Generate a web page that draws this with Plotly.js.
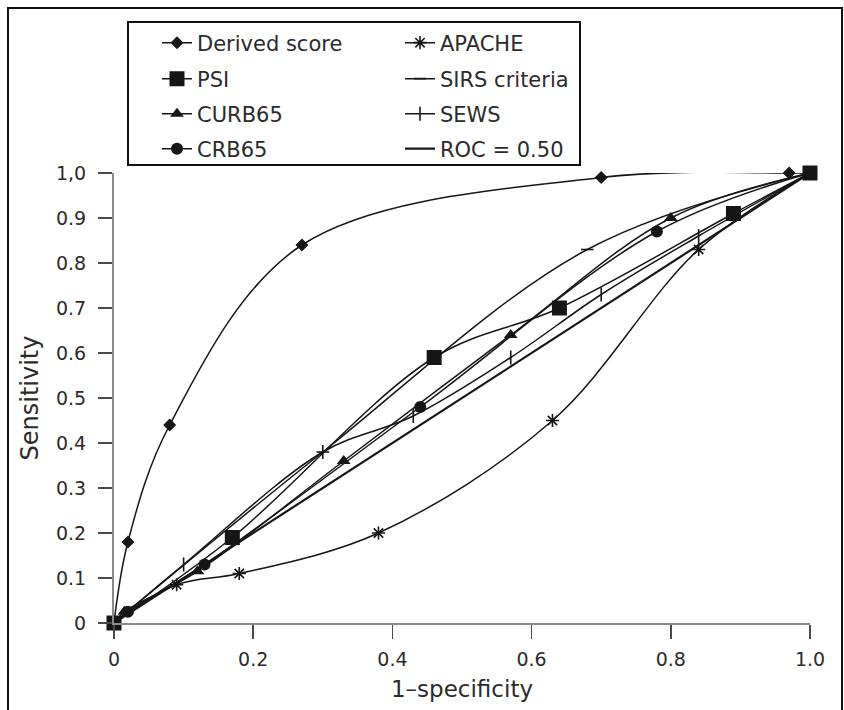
<!DOCTYPE html>
<html>
<head>
<meta charset="utf-8">
<script src="https://cdn.plot.ly/plotly-3.0.1.min.js"></script>
<style>
  html, body { margin: 0; padding: 0; background: #fff; }
  #chart { width: 844px; height: 710px; }
</style>
</head>
<body>
<div id="chart"></div>
<script>
// ROC curves of the prognostic scores: 1-specificity (x) vs sensitivity (y)
const derivedX = [0, 0.02, 0.08, 0.27, 0.70, 0.97, 1.0];
const derivedY = [0, 0.18, 0.44, 0.84, 0.99, 1.0, 1.0];

const psiX = [0, 0.17, 0.46, 0.64, 0.89, 1.0];
const psiY = [0, 0.19, 0.59, 0.70, 0.91, 1.0];

const curb65X = [0, 0.015, 0.12, 0.33, 0.57, 0.80, 1.0];
const curb65Y = [0, 0.025, 0.115, 0.36, 0.64, 0.90, 1.0];

const crb65X = [0, 0.02, 0.13, 0.44, 0.78, 1.0];
const crb65Y = [0, 0.025, 0.13, 0.48, 0.87, 1.0];

const apacheX = [0, 0.09, 0.18, 0.38, 0.63, 0.84, 1.0];
const apacheY = [0, 0.085, 0.11, 0.20, 0.45, 0.83, 1.0];

const sirsX = [0, 0.30, 0.68, 1.0];
const sirsY = [0, 0.38, 0.83, 1.0];

const sewsX = [0, 0.10, 0.30, 0.43, 0.57, 0.70, 0.84, 1.0];
const sewsY = [0, 0.13, 0.38, 0.46, 0.59, 0.73, 0.86, 1.0];

const chanceX = [0, 1];
const chanceY = [0, 1];

const xTickVals = [0, 0.2, 0.4, 0.6, 0.8, 1.0];
const xTickText = ['0', '0.2', '0.4', '0.6', '0.8', '1.0'];
const yTickVals = [0, 0.1, 0.2, 0.3, 0.4, 0.5, 0.6, 0.7, 0.8, 0.9, 1.0];
const yTickText = ['0', '0.1', '0.2', '0.3', '0.4', '0.5', '0.6', '0.7', '0.8', '0.9', '1,0'];

const INK = '#161616';
const TEXT = '#2b2b2b';
const FONT = 'DejaVu Sans, Verdana, sans-serif';

// plot area in pixels: x 114..810, y 173..623
const PX = { l: 114, r: 810, t: 173, b: 623 };
const toPaperX = px => (px - PX.l) / (PX.r - PX.l);
const toPaperY = py => (PX.b - py) / (PX.b - PX.t);

function curve(name, xs, ys, symbol, size, legendId, extra) {
  const open = symbol === 'asterisk' || symbol === 'line-ns' || symbol === 'line-ew';
  return Object.assign({
    type: 'scatter',
    mode: 'lines+markers',
    name: name,
    x: xs,
    y: ys,
    legend: legendId,
    cliponaxis: false,
    line: { color: INK, width: 1.5, shape: 'spline', smoothing: 1 },
    marker: {
      symbol: symbol,
      size: size,
      color: INK,
      line: { color: INK, width: open ? 1.6 : 0 }
    }
  }, extra || {});
}

const traces = [
  curve('Derived score', derivedX, derivedY, 'diamond', 10, 'legend'),
  curve('PSI', psiX, psiY, 'square', 15, 'legend2'),
  curve('CURB65', curb65X, curb65Y, 'triangle-up', 12, 'legend3'),
  curve('CRB65', crb65X, crb65Y, 'circle', 12, 'legend4'),
  curve('APACHE', apacheX, apacheY, 'asterisk', 11, 'legend5'),
  curve('SIRS criteria', sirsX, sirsY, 'line-ew', 9, 'legend6'),
  curve('SEWS', sewsX, sewsY, 'line-ns', 10, 'legend7'),
  {
    type: 'scatter', mode: 'lines', name: 'ROC = 0.50',
    x: chanceX, y: chanceY, legend: 'legend8', cliponaxis: false,
    line: { color: INK, width: 2.2 }
  }
];

// one legend per entry so the two columns and four rows sit on a fixed grid
const legendCols = [157, 400];
const legendRows = [43, 79, 114, 149];
function legendAt(col, row) {
  return {
    x: toPaperX(legendCols[col]), y: toPaperY(legendRows[row]),
    xanchor: 'left', yanchor: 'middle',
    bgcolor: 'rgba(0,0,0,0)', borderwidth: 0,
    font: { family: FONT, size: 21, color: TEXT }
  };
}

const layout = {
  width: 844,
  height: 710,
  margin: { l: 114, r: 34, t: 173, b: 87 },
  paper_bgcolor: '#ffffff',
  plot_bgcolor: '#ffffff',
  font: { family: FONT, color: TEXT, size: 19 },
  showlegend: true,
  legend: legendAt(0, 0),
  legend2: legendAt(0, 1),
  legend3: legendAt(0, 2),
  legend4: legendAt(0, 3),
  legend5: legendAt(1, 0),
  legend6: legendAt(1, 1),
  legend7: legendAt(1, 2),
  legend8: legendAt(1, 3),
  xaxis: {
    range: [0, 1],
    tickmode: 'array',
    tickvals: xTickVals,
    ticktext: xTickText,
    ticks: 'outside', ticklen: 14, tickwidth: 1.6, tickcolor: '#4a4a4a',
    ticklabelstandoff: 4,
    showline: true, linecolor: '#8a8a8a', linewidth: 2,
    showgrid: false, zeroline: false,
    tickfont: { size: 19, family: FONT, color: TEXT },
    title: { text: '1–specificity', font: { size: 23, family: FONT, color: TEXT }, standoff: 12 }
  },
  yaxis: {
    range: [0, 1],
    tickmode: 'array',
    tickvals: yTickVals,
    ticktext: yTickText,
    ticks: 'outside', ticklen: 14, tickwidth: 1.6, tickcolor: '#4a4a4a',
    ticklabelstandoff: 8,
    showline: true, linecolor: '#8a8a8a', linewidth: 2,
    showgrid: false, zeroline: false,
    tickfont: { size: 19, family: FONT, color: TEXT },
    title: { text: 'Sensitivity', font: { size: 24, family: FONT, color: TEXT }, standoff: 11 }
  },
  shapes: [
    // outer frame of the figure
    {
      type: 'rect', xref: 'paper', yref: 'paper', layer: 'above',
      x0: toPaperX(8), x1: toPaperX(842),
      y0: toPaperY(760), y1: toPaperY(8),
      line: { color: '#111', width: 2 }, fillcolor: 'rgba(0,0,0,0)'
    },
    // legend box
    {
      type: 'rect', xref: 'paper', yref: 'paper', layer: 'above',
      x0: toPaperX(128), x1: toPaperX(580),
      y0: toPaperY(165), y1: toPaperY(22),
      line: { color: '#111', width: 2 }, fillcolor: 'rgba(0,0,0,0)'
    }
  ]
};

Plotly.newPlot('chart', traces, layout, { displayModeBar: false, staticPlot: true });
</script>
</body>
</html>
